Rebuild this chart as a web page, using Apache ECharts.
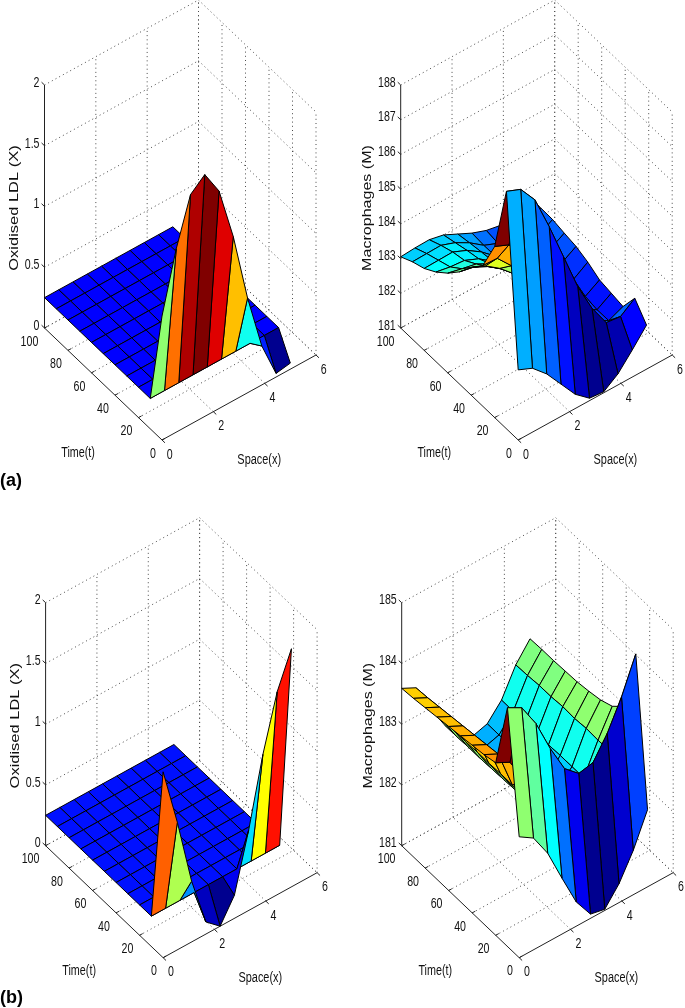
<!DOCTYPE html>
<html><head><meta charset="utf-8">
<style>html,body{margin:0;padding:0;background:#fff}#c{width:685px;height:1008px;filter:blur(0.35px)}</style>
<script src="https://cdn.jsdelivr.net/npm/echarts@6/dist/echarts.min.js"></script>
</head><body><div id="c"></div>
<script>
// grid of the surfaces
const spaceGrid=[0,5/9,10/9,15/9,20/9,25/9,30/9,35/9,40/9,5];
const timeGrid=[0,10,20,30,40,50,60,70,80,90,100];
// tick labels
const spaceTicks=[0,2,4,6];
const timeTicks=[0,20,40,60,80,100];
const ldlTicksA=[0,0.5,1,1.5,2];
const macroTicksA=[181,182,183,184,185,186,187,188];
const macroTicksB=[181,182,183,184,185];
// surface values: one row per time, one column per space point
const flatRow=[.25,.25,.25,.25,.25,.25,.25,.25,.25,.25];
const ldlA=[[1.02,1.51,1.89,1.99,1.79,1.35,.78,.32,.03,.05],flatRow,flatRow,flatRow,flatRow,flatRow,flatRow,flatRow,flatRow,flatRow,flatRow];
const ldlB=[[1.53,1.05,.50,.10,0,.19,.66,1.22,1.67,1.96],flatRow,flatRow,flatRow,flatRow,flatRow,flatRow,flatRow,flatRow,flatRow,flatRow];
const macroA=[
[183.02,182.84,182.45,181.93,181.41,181.07,181.03,181.32,181.78,182.27],
[187.84,187.67,187.14,186.14,185.05,183.96,183.11,182.47,182.42,182.72],
[185.93,185.75,185.3,184.7,184.0,183.3,182.65,182.2,181.98,182.16],
[185.06,185.04,184.6,184.0,183.5,183.0,182.55,182.2,181.97,182.22],
[184.68,184.5,184.2,183.82,183.35,182.95,182.55,182.22,182.03,182.28],
[184.23,184.14,183.93,183.63,183.25,182.85,182.5,182.25,182.2,182.47],
[183.87,183.77,183.68,183.46,183.15,182.8,182.5,182.3,182.35,182.6],
[183.58,183.5,183.46,183.28,182.98,182.7,182.47,182.32,182.42,182.66],
[183.36,183.37,183.38,183.2,182.93,182.58,182.42,182.33,182.47,182.73],
[183.23,183.24,183.25,183.1,182.87,182.57,182.4,182.33,182.48,182.74],
[183.05,183.08,183.09,183.0,182.8,182.6,182.45,182.37,182.45,182.75]];
const macroB=[
[182.99,182.84,182.46,181.92,181.40,181.07,181.02,181.31,181.73,182.27],
[184.93,184.80,184.41,183.87,183.41,183.2,183.25,183.6,184.07,184.65],
[183.84,183.72,183.3,182.9,182.55,182.35,182.4,182.6,183.0,183.6],
[183.79,183.67,183.03,182.65,182.35,182.2,182.27,182.5,182.99,183.42],
[183.76,183.64,183.03,182.64,182.34,182.19,182.26,182.5,183.0,183.34],
[183.73,183.61,183.02,182.63,182.34,182.18,182.25,182.5,182.98,183.3],
[183.70,183.58,183.02,182.62,182.33,182.18,182.25,182.49,182.99,183.27],
[183.67,183.55,183.01,182.61,182.33,182.17,182.24,182.49,182.97,183.26],
[183.64,183.52,183.01,182.61,182.33,182.17,182.24,182.49,182.97,183.25],
[183.61,183.49,183.0,182.6,182.32,182.16,182.23,182.49,182.95,183.25],
[183.59,183.47,183.0,182.6,182.32,182.16,182.23,182.49,182.94,183.24]];

const FONT='"Liberation Sans", Arial, sans-serif';
const BOX={w:271.5,h:440,tx:117.5,ty:112,xx:154,xy:85,zy:243,xMax:6,tMax:100};
const panels=[
 {left:44.5,top:0,z:ldlA,ticks:ldlTicksA,zr:[0,2],title:'Oxidised LDL (X)',tdx:-30.5,ts:1.098},
 {left:400.7,top:0,z:macroA,ticks:macroTicksA,zr:[181,188],title:'Macrophages (M)',tdx:-33,ts:1.07},
 {left:45.6,top:517.7,z:ldlB,ticks:ldlTicksA,zr:[0,2],title:'Oxidised LDL (X)',tdx:-30.3,ts:1.098},
 {left:401.7,top:517.7,z:macroB,ticks:macroTicksB,zr:[181,185],title:'Macrophages (M)',tdx:-33.4,ts:1.07}
];
function jet(v){
  v=(Math.min(63,Math.floor(v*64))+1)/64;
  const c=x=>Math.round(255*Math.max(0,Math.min(1,x)));
  return `rgb(${c(Math.min(4*v-1.5,-4*v+4.5))},${c(Math.min(4*v-.5,-4*v+3.5))},${c(Math.min(4*v+.5,-4*v+2.5))})`;
}
function projector(zr){
  return (x,t,z)=>{
    const xf=x/BOX.xMax,tf=t/BOX.tMax,zf=(z-zr[0])/(zr[1]-zr[0]);
    return [((1-tf)*BOX.tx+xf*BOX.xx)/BOX.w,(tf*BOX.ty+xf*BOX.xy+zf*BOX.zy)/BOX.h];
  };
}
const grids=[],xAxes=[],yAxes=[],series=[];
panels.forEach((p,idx)=>{
  grids.push({left:p.left,top:p.top,width:BOX.w,height:BOX.h});
  xAxes.push({type:'value',gridIndex:idx,min:0,max:1,show:false});
  yAxes.push({type:'value',gridIndex:idx,min:0,max:1,show:false});
  const P=projector(p.zr),z0=p.zr[0],z1=p.zr[1];
  const segs=[],solid=[];
  const seg=(arr,a,b)=>arr.push([...a,...b]);
  // dotted grid: walls and floor
  p.ticks.forEach(z=>{seg(segs,P(0,100,z),P(6,100,z));seg(segs,P(6,100,z),P(6,0,z));});
  spaceTicks.forEach(x=>{if(x>0){seg(segs,P(x,100,z0),P(x,100,z1));} if(x>0&&x<6){seg(segs,P(x,0,z0),P(x,100,z0));}});
  timeTicks.forEach(t=>{seg(segs,P(6,t,z0),P(6,t,z1)); if(t<100&&t>0){seg(segs,P(0,t,z0),P(6,t,z0));}});
  seg(segs,P(6,100,z0),P(6,0,z0));seg(segs,P(0,100,z0),P(6,100,z0));
  // solid axes and ticks
  seg(solid,P(0,100,z0),P(0,100,z1));
  seg(solid,P(0,100,z0),P(0,0,z0));
  seg(solid,P(0,0,z0),P(6,0,z0));
  p.ticks.forEach(z=>seg(solid,P(0,100,z),P(0,102.5,z)));
  timeTicks.forEach(t=>seg(solid,P(0,t,z0),P(.12,t,z0)));
  spaceTicks.forEach(x=>seg(solid,P(x,0,z0),P(x,-2.5,z0)));
  const lineSeries=(data,style,zz)=>({type:'custom',coordinateSystem:'cartesian2d',xAxisIndex:idx,yAxisIndex:idx,
    silent:true,animation:false,clip:false,z:zz,data,encode:{x:[0,2],y:[1,3]},
    renderItem:(ps,api)=>{
      const a=api.coord([api.value(0),api.value(1)]),b=api.coord([api.value(2),api.value(3)]);
      return {type:'line',shape:{x1:a[0],y1:a[1],x2:b[0],y2:b[1]},style};
    }});
  series.push(lineSeries(segs,{stroke:'#4a4a4a',lineWidth:1,lineDash:[1,3.2],fill:null},1));
  series.push(lineSeries(solid,{stroke:'#222',lineWidth:1,fill:null},2));
  // surface cells, back to front
  let mn=Infinity,mx=-Infinity;p.z.forEach(r=>r.forEach(v=>{mn=Math.min(mn,v);mx=Math.max(mx,v);}));
  const cells=[];
  for(let k=timeGrid.length-2;k>=0;k--)for(let i=spaceGrid.length-2;i>=0;i--){
    const q=(a,b)=>P(spaceGrid[b],timeGrid[a],p.z[a][b]);
    cells.push([...q(k,i),...q(k,i+1),...q(k+1,i+1),...q(k+1,i),(p.z[k][i]-mn)/(mx-mn)]);
  }
  series.push({type:'custom',coordinateSystem:'cartesian2d',xAxisIndex:idx,yAxisIndex:idx,silent:true,animation:false,clip:false,z:3,progressive:0,
    data:cells,encode:{x:[0,2,4,6],y:[1,3,5,7]},
    renderItem:(ps,api)=>{
      const pts=[0,2,4,6].map(n=>api.coord([api.value(n),api.value(n+1)]));
      return {type:'polygon',shape:{points:pts},style:{fill:jet(api.value(8)),stroke:'#000',lineWidth:1,lineJoin:'round'}};
    }});
  // texts
  const texts=[];
  const add=(pos,dx,dy,text,align,sx,rot)=>texts.push({pos,dx,dy,text,align,sx,rot});
  p.ticks.forEach(z=>add(P(0,100,z),-5,-2.5,String(z),'right',.69,0));
  timeTicks.forEach(t=>add(P(0,t,z0),-6.2,13.5,String(t),'right',.69,0));
  spaceTicks.forEach(x=>add(P(x,0,z0),7.8,14.4,String(x),'center',.69,0));
  add(P(0,50,z0),-25.2,69,'Time(t)','center',.7,0);
  add(P(3,0,z0),20.2,62.5,'Space(x)','center',.71,0);
  add(P(0,100,(z0+z1)/2),p.tdx,1.5,p.title,'center',p.ts,Math.PI/2);
  series.push({type:'custom',coordinateSystem:'cartesian2d',xAxisIndex:idx,yAxisIndex:idx,silent:true,animation:false,clip:false,z:4,
    data:texts.map((t,n)=>[t.pos[0],t.pos[1],n]),encode:{x:0,y:1},
    renderItem:(ps,api)=>{
      const t=texts[api.value(2)],c=api.coord([api.value(0),api.value(1)]);
      const isTitle=t.rot!==0;
      return {type:'text',x:c[0]+t.dx,y:c[1]+t.dy,rotation:t.rot,scaleX:t.sx,scaleY:isTitle?.9:1,
        style:{text:t.text,font:(isTitle?'15px ':'15.4px ')+FONT,fill:'#111',textAlign:t.align,textVerticalAlign:'middle',align:t.align,verticalAlign:'middle'}};
    }});
});
const chart=echarts.init(document.getElementById('c'),null,{renderer:'canvas',width:685,height:1008});
chart.setOption({backgroundColor:'#fff',animation:false,grid:grids,xAxis:xAxes,yAxis:yAxes,series,
  graphic:[
   {type:'text',left:0,top:472,style:{text:'(a)',font:'bold 18px '+FONT,fill:'#000'}},
   {type:'text',left:0,top:989,style:{text:'(b)',font:'bold 18px '+FONT,fill:'#000'}}
  ]});
</script></body></html>
